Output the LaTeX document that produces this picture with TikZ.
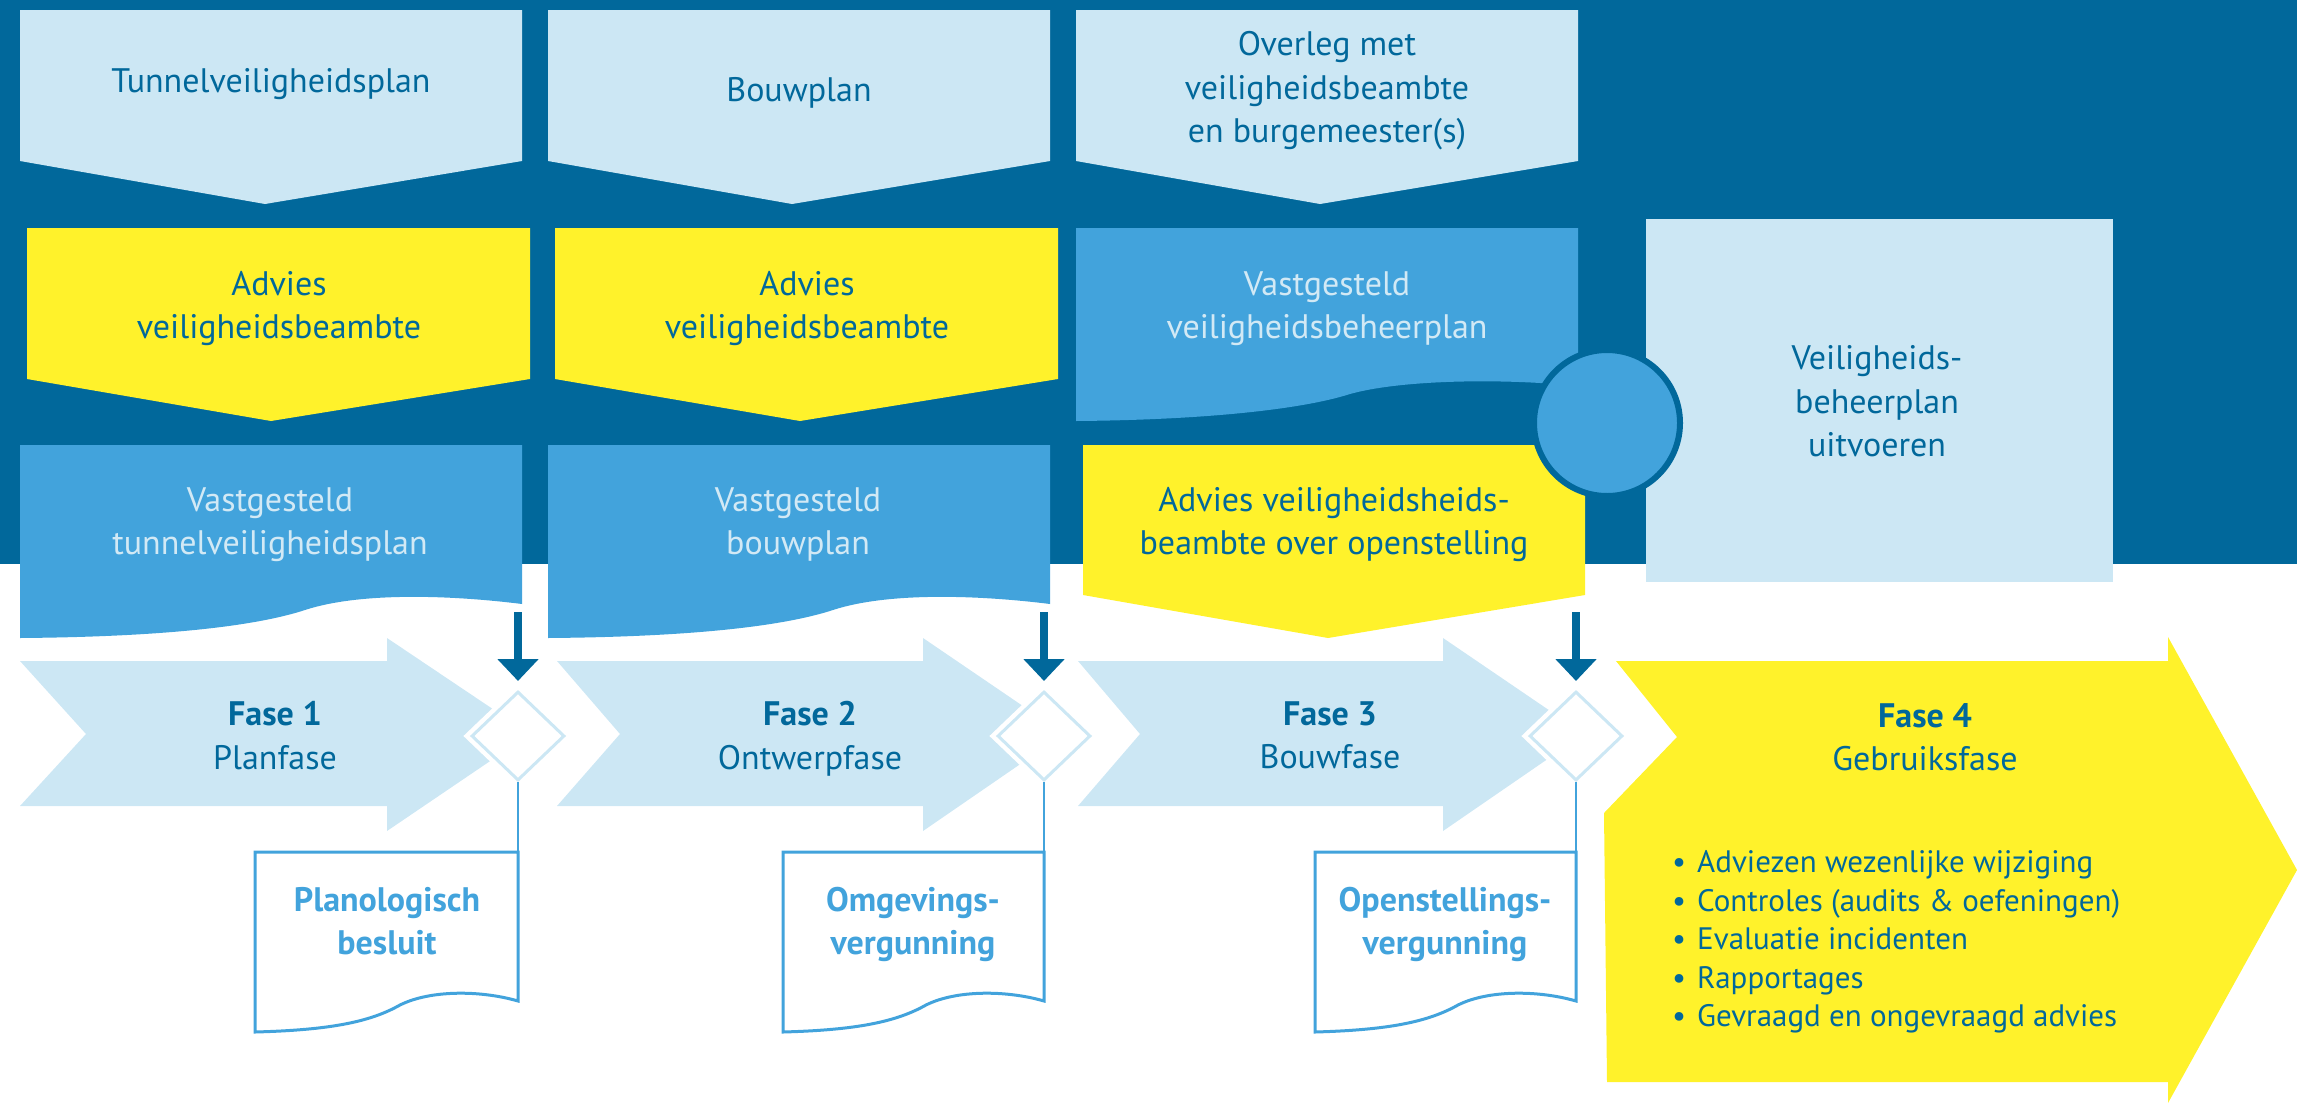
\documentclass[tikz,border=0pt]{standalone}
\usepackage{fontspec}
\setmainfont{PT Sans}
\usetikzlibrary{arrows.meta,shapes.geometric}
\definecolor{bgblue}{HTML}{01689B}
\definecolor{midblue}{HTML}{42A3DC}
\definecolor{lightblue}{HTML}{CCE7F4}
\definecolor{yel}{HTML}{FFF22B}
\definecolor{txtblue}{HTML}{01689B}
\definecolor{paletxt}{HTML}{D2E9F5}
\newcommand\mybul{\makebox[25pt][l]{•}}
\begin{document}
\begin{tikzpicture}[x=1pt,y=-1pt,
  lbl/.style={align=center,font=\fontsize{34}{43.5}\selectfont,text=txtblue,inner sep=0},
  palelbl/.style={lbl,text=paletxt},
  doclbl/.style={lbl,font=\fontsize{34}{43.5}\selectfont\bfseries,text=midblue},
  docshape/.style={fill=white,draw=midblue,line width=3pt},
  diam/.style={shape=diamond,minimum width=93pt,minimum height=89pt,inner sep=0,fill=white,draw=lightblue,line width=3pt,preaction={draw=white,line width=12pt}},
  downarrow/.style={draw=bgblue,line width=8pt,-{Triangle[width=40pt,length=22pt]},shorten >=9pt},
  conn/.style={draw=midblue,line width=2.5pt}]
\useasboundingbox (0,0) rectangle (2297,1103);
% background
\fill[bgblue] (0,0) rectangle (2297,564);

% row 1: light boxes
\fill[lightblue] (20,10) -- (522,10) -- (522,161) -- (265,204) -- (20,161) -- cycle;
\fill[lightblue] (548,10) -- (1050,10) -- (1050,161) -- (792,204) -- (548,161) -- cycle;
\fill[lightblue] (1076,10) -- (1578,10) -- (1578,161) -- (1320,204) -- (1076,161) -- cycle;
\node[lbl] (t1) at (271,84.5) {Tunnelveiligheidsplan};
\node[lbl] (t2) at (799,92.5) {Bouwplan};
\node[lbl] (t3) at (1327,91) {Overleg met\\veiligheidsbeambte\\en burgemeester(s)};

% row 2
\fill[yel] (27,228) -- (530,228) -- (530,379) -- (271,421) -- (27,379) -- cycle;
\fill[yel] (555,228) -- (1058,228) -- (1058,379) -- (800,421) -- (555,379) -- cycle;
\fill[midblue] (1076,228) -- (1578,228) -- (1578,386) .. controls (1500,378) and (1400,380) .. (1350,394) .. controls (1300,410) and (1200,420) .. (1076,421) -- cycle;
\node[lbl] (y1) at (279,308.5) {Advies\\veiligheidsbeambte};
\node[lbl] (y2) at (807,308.5) {Advies\\veiligheidsbeambte};
\node[palelbl] (v3) at (1327,308.5) {Vastgesteld\\veiligheidsbeheerplan};

% big light box right
\fill[lightblue] (1646,219) rectangle (2113,582);
\node[lbl] (u4) at (1877,401.5) {Veiligheids-\\beheerplan\\uitvoeren};

% row 3
\fill[midblue] (20,445) -- (522,445) -- (522,604) .. controls (450,595) and (360,592) .. (305,610) .. controls (250,628) and (150,637) .. (20,638) -- cycle;
\fill[midblue] (548,445) -- (1050,445) -- (1050,604) .. controls (978,595) and (888,592) .. (833,610) .. controls (778,628) and (678,637) .. (548,638) -- cycle;
\fill[yel] (1083,445) -- (1585,445) -- (1585,595) -- (1328,638) -- (1083,595) -- cycle;
\node[palelbl] (v1) at (270,524.5) {Vastgesteld\\tunnelveiligheidsplan};
\node[palelbl] (v2) at (798,524.5) {Vastgesteld\\bouwplan};
\node[lbl] (y3) at (1334,524.5) {Advies veiligheidsheids-\\beambte over openstelling};

% hub circle
\node[circle,fill=midblue,draw=bgblue,line width=6pt,minimum size=146pt,inner sep=0] (hub) at (1607,423) {};

% phase chevrons
\fill[lightblue] (20,661) -- (387,661) -- (387,638) -- (530,734) -- (387,831) -- (387,806) -- (20,806) -- (86,734) -- cycle;
\fill[lightblue] (557,661) -- (923,661) -- (923,638) -- (1064,734) -- (923,831) -- (923,806) -- (557,806) -- (620,734) -- cycle;
\fill[lightblue] (1078,661) -- (1443,661) -- (1443,638) -- (1584,734) -- (1443,831) -- (1443,806) -- (1078,806) -- (1140,734) -- cycle;
\fill[yel] (1616,661) -- (2168,661) -- (2168,637) -- (2297,870) -- (2168,1103) -- (2168,1082) -- (1607,1082) -- (1604,813) -- (1677,737) -- cycle;

\node[lbl] (f1) at (275,735.5) {\textbf{Fase 1}\\Planfase};
\node[lbl] (f2) at (810,739) {\textbf{Fase 2}\\Ontwerpfase};
\node[lbl] (f3) at (1330,735.5) {\textbf{Fase 3}\\Bouwfase};
\node[lbl] (f4) at (1925,737) {\textbf{Fase 4}\\Gebruiksfase};
\node[anchor=west,align=left,inner sep=0,text=txtblue,font=\fontsize{31}{38.5}\selectfont] (list) at (1672,942) {\mybul Adviezen wezenlijke wijziging\\\mybul Controles (audits \& oefeningen)\\\mybul Evaluatie incidenten\\\mybul Rapportages\\\mybul Gevraagd en ongevraagd advies};

% decision diamonds
\node[diam] (d1) at (518,736) {};
\node[diam] (d2) at (1044,736) {};
\node[diam] (d3) at (1576,736) {};

% down arrows
\coordinate (a1) at (518,612);
\coordinate (a2) at (1044,612);
\coordinate (a3) at (1576,612);
\draw[downarrow] (a1) -- (d1.north);
\draw[downarrow] (a2) -- (d2.north);
\draw[downarrow] (a3) -- (d3.north);

% documents
\draw[docshape] (255,852) -- (518,852) -- (518,1001) .. controls (480,990) and (430,990) .. (400,1005) .. controls (370,1022) and (330,1030) .. (255,1032) -- cycle;
\draw[docshape] (783,852) -- (1044,852) -- (1044,1001) .. controls (1006,990) and (956,990) .. (926,1005) .. controls (896,1022) and (856,1030) .. (783,1032) -- cycle;
\draw[docshape] (1315,852) -- (1576,852) -- (1576,1001) .. controls (1538,990) and (1488,990) .. (1458,1005) .. controls (1428,1022) and (1388,1030) .. (1315,1032) -- cycle;
\coordinate (c1) at (518,852);
\coordinate (c2) at (1044,852);
\coordinate (c3) at (1576,852);
\draw[conn] (d1.south) -- (c1);
\draw[conn] (d2.south) -- (c2);
\draw[conn] (d3.south) -- (c3);
\node[doclbl] (p1) at (387,921) {Planologisch\\besluit};
\node[doclbl] (p2) at (913,924.5) {Omgevings-\\vergunning};
\node[doclbl] (p3) at (1445,924.5) {Openstellings-\\vergunning};
\end{tikzpicture}
\end{document}
